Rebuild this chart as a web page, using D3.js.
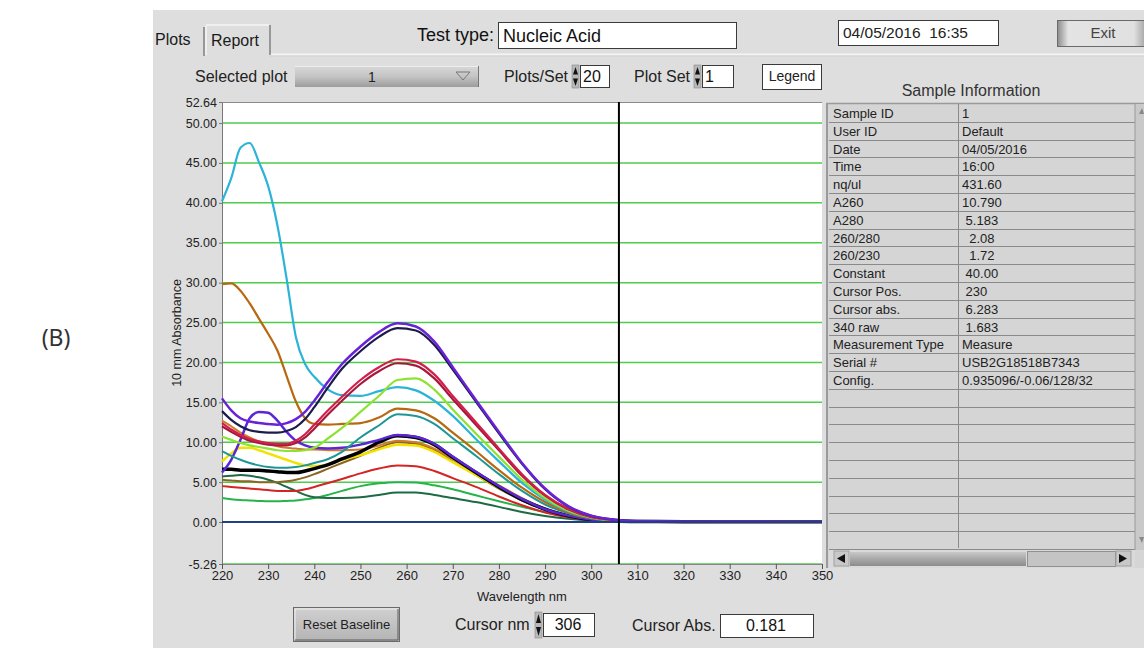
<!DOCTYPE html>
<html><head><meta charset="utf-8">
<script src="https://cdn.jsdelivr.net/npm/d3@7"></script>
<style>
html,body{margin:0;padding:0;background:#fff;}
svg{display:block;font-family:"Liberation Sans",Arial,sans-serif;}
text{white-space:pre;}
</style></head><body>
<svg id="c" width="1144" height="648"></svg>
<script>
// ---------- DATA ----------
const wavelengths = [220,222,224,226,228,230,232,234,236,238,240,243,246,250,254,258,262,266,270,275,280,285,290,295,300,305,310,320,330,340,350];
const cyanSeries      = [40.2,43.1,46.9,47.5,45.1,42.1,37.2,30.5,23.2,19.8,18.2,16.6,15.9,15.8,16.4,16.9,16.5,15.2,13.3,10.4,7.6,4.9,2.8,1.35,0.55,0.2,0.1,0.07,0.05,0.04,0.03];
const brownSeries     = [29.8,29.9,29.0,27.4,25.5,23.6,21.5,18.3,15.1,13.0,12.3,12.2,12.3,12.4,13.1,14.2,14.0,13.0,11.2,8.9,6.5,4.3,2.5,1.2,0.48,0.18,0.1,0.07,0.05,0.04,0.03];
const purpleSeries    = [15.5,14.0,13.0,12.6,12.4,12.3,12.2,12.4,12.9,13.8,15.2,17.6,19.8,22.0,23.8,24.9,24.5,22.6,19.4,15.3,11.3,7.4,4.2,2.0,0.8,0.3,0.12,0.08,0.06,0.05,0.04];
const navySeries      = [13.9,12.8,12.0,11.5,11.3,11.2,11.2,11.4,11.9,12.9,14.4,16.9,19.2,21.4,23.2,24.3,24.0,22.2,19.1,15.1,11.1,7.3,4.1,1.95,0.78,0.3,0.12,0.08,0.06,0.05,0.04];
const crimsonSeries   = [12.4,11.6,10.9,10.4,10.1,9.9,9.8,9.8,10.2,11.0,12.2,14.0,15.7,17.8,19.4,20.4,20.1,18.5,15.8,12.5,9.2,6.0,3.4,1.65,0.65,0.25,0.1,0.07,0.05,0.04,0.03];
const darkRedSeries   = [12.0,11.3,10.7,10.2,9.9,9.7,9.6,9.6,9.9,10.6,11.7,13.5,15.2,17.3,18.9,19.9,19.6,18.0,15.4,12.2,9.0,5.8,3.3,1.6,0.63,0.24,0.1,0.07,0.05,0.04,0.03];
const limeSeries      = [10.7,10.3,9.9,9.6,9.4,9.2,9.0,8.9,8.9,9.0,9.3,10.5,11.8,13.8,15.8,17.8,18.0,16.6,14.1,11.1,8.2,5.3,3.0,1.45,0.58,0.22,0.1,0.07,0.05,0.04,0.03];
const tealSeries      = [8.9,8.3,7.8,7.4,7.1,6.9,6.8,6.8,6.9,7.1,7.4,7.9,8.8,10.6,12.1,13.5,13.3,12.3,10.5,8.3,6.0,3.9,2.2,1.1,0.43,0.17,0.08,0.06,0.05,0.04,0.03];
const orangeSeries    = [12.7,12.0,11.2,10.6,10.1,9.8,9.5,9.3,9.2,9.1,9.1,9.0,9.0,9.1,9.6,10.2,10.0,9.2,7.9,6.2,4.6,3.0,1.7,0.85,0.33,0.13,0.07,0.05,0.04,0.03,0.03];
const yellowSeries    = [7.6,8.6,9.3,9.3,9.0,8.6,8.2,7.8,7.4,7.1,7.0,7.2,7.8,8.4,9.1,9.7,9.6,8.8,7.5,5.9,4.3,2.8,1.6,0.8,0.32,0.12,0.07,0.05,0.04,0.03,0.03];
const blackSeries     = [6.6,6.6,6.5,6.5,6.5,6.4,6.3,6.2,6.2,6.4,6.7,7.2,7.9,8.8,10.0,10.8,10.6,9.7,8.1,6.2,4.4,2.8,1.6,0.78,0.32,0.13,0.07,0.05,0.04,0.03,0.03];
const violetSeries    = [6.2,7.8,10.3,13.0,13.8,13.7,12.7,11.3,10.2,9.6,9.3,9.2,9.3,9.7,10.3,10.9,10.7,9.8,8.2,6.3,4.5,2.9,1.6,0.8,0.32,0.13,0.07,0.05,0.04,0.03,0.03];
const darkGreenSeries = [5.7,5.8,5.9,5.8,5.6,5.3,4.9,4.4,3.9,3.4,3.1,3.0,3.0,3.1,3.4,3.7,3.7,3.4,3.0,2.5,1.9,1.25,0.75,0.4,0.18,0.08,0.05,0.04,0.03,0.03,0.02];
const oliveSeries     = [5.3,5.2,5.1,5.1,5.0,5.0,5.0,5.1,5.3,5.6,6.0,6.7,7.4,8.3,9.3,10.0,9.8,9.0,7.6,5.9,4.2,2.7,1.55,0.75,0.3,0.12,0.06,0.05,0.04,0.03,0.03];
const redSeries       = [4.5,4.4,4.3,4.2,4.1,4.0,3.9,3.9,3.9,4.1,4.4,4.9,5.4,6.1,6.7,7.1,7.0,6.4,5.5,4.4,3.2,2.1,1.2,0.6,0.25,0.1,0.05,0.04,0.03,0.03,0.02];
const greenSeries     = [3.0,2.85,2.75,2.7,2.65,2.6,2.6,2.65,2.7,2.85,3.0,3.4,3.9,4.5,4.85,5.0,4.95,4.6,4.1,3.35,2.6,1.9,1.25,0.7,0.35,0.15,0.06,0.05,0.04,0.03,0.02];
const baselineSeries  = [0,0,0,0,0,0,0,0,0,0,0,0,0,0,0,0,0,0,0,0,0,0,0,0,0,0,0,0,0,0,0];

const yTickValues = [52.64,50,45,40,35,30,25,20,15,10,5,0,-5.26];
const gridValues  = [50,45,40,35,30,25,20,15,10,5,0,-5.26];
const xTickValues = [220,230,240,250,260,270,280,290,300,310,320,330,340,350];
const cursorNm = 306;

const tableLabels = ["Sample ID","User ID","Date","Time","nq/ul","A260","A280","260/280","260/230","Constant","Cursor Pos.","Cursor abs.","340 raw","Measurement Type","Serial #","Config."];
const tableValues = ["1","Default","04/05/2016","16:00","431.60","10.790"," 5.183","  2.08","  1.72"," 40.00"," 230"," 6.283"," 1.683","Measure","USB2G18518B7343","0.935096/-0.06/128/32"];

// draw order + colours
const seriesList = [
  [greenSeries,"#27b34c",2],[darkGreenSeries,"#1d6a45",2],[redSeries,"#d42424",2],
  [oliveSeries,"#8a6620",2],[orangeSeries,"#cf7a2c",2],[yellowSeries,"#f3e200",2.5],
  [blackSeries,"#000000",3.5],[violetSeries,"#5a26d6",2.5],[tealSeries,"#1f9696",2],
  [brownSeries,"#b8690f",2.2],[cyanSeries,"#2bb4d8",2.2],[limeSeries,"#8ee232",2.2],
  [darkRedSeries,"#a8183c",2.2],[crimsonSeries,"#d01f4c",2.2],[navySeries,"#1c1c4c",2.2],
  [purpleSeries,"#6a22d8",2.5],[baselineSeries,"#1f3f86",2]
];

// ---------- DRAW ----------
const svg = d3.select("#c");
const defs = svg.append("defs");
function vgrad(id, stops){ const g=defs.append("linearGradient").attr("id",id).attr("x1",0).attr("y1",0).attr("x2",0).attr("y2",1); stops.forEach(([o,c])=>g.append("stop").attr("offset",o).attr("stop-color",c)); }
function hgrad(id, stops){ const g=defs.append("linearGradient").attr("id",id).attr("x1",0).attr("y1",0).attr("x2",1).attr("y2",0); stops.forEach(([o,c])=>g.append("stop").attr("offset",o).attr("stop-color",c)); }
vgrad("dd",[[0,"#d8d8d8"],[0.5,"#c4c4c4"],[1,"#9c9c9c"]]);
hgrad("exitg",[[0,"#8c8c8c"],[0.12,"#e4e4e4"],[0.85,"#e0e0e0"],[1,"#9a9a9a"]]);
vgrad("thumb",[[0,"#c8c8c8"],[0.5,"#a8a8a8"],[1,"#8c8c8c"]]);
vgrad("btn",[[0,"#d0d0d0"],[1,"#b4b4b4"]]);

svg.append("rect").attr("x",0).attr("y",0).attr("width",1144).attr("height",648).attr("fill","#fff");
svg.append("text").attr("x",56).attr("y",346).attr("text-anchor","middle").attr("font-family","'Noto Sans',sans-serif").attr("font-size",23).attr("fill","#333").text("(B)");

// panel
svg.append("rect").attr("x",153).attr("y",10).attr("width",991).attr("height",638).attr("fill","#dedede");

function txt(x,y,s,size,anchor,color){ return svg.append("text").attr("x",x).attr("y",y).attr("font-size",size).attr("text-anchor",anchor||"start").attr("fill",color||"#1a1a1a").text(s); }
function box(x,y,w,h,fill){ svg.append("rect").attr("x",x+0.5).attr("y",y+0.5).attr("width",w).attr("height",h).attr("fill",fill||"#fff").attr("stroke","#3a3a3a").attr("stroke-width",1); }
function spinner(x,y,h){
  svg.append("rect").attr("x",x).attr("y",y).attr("width",7).attr("height",h).attr("fill","#b8b8b8").attr("stroke","#888").attr("stroke-width",0.6);
  svg.append("path").attr("d",`M${x+1},${y+h/2-2} L${x+3.5},${y+2} L${x+6},${y+h/2-2}Z`).attr("fill","#111");
  svg.append("path").attr("d",`M${x+1},${y+h/2+2} L${x+3.5},${y+h-2} L${x+6},${y+h/2+2}Z`).attr("fill","#111");
}

// tabs
svg.append("line").attr("x1",270).attr("x2",1144).attr("y1",54.5).attr("y2",54.5).attr("stroke","#f4f4f4").attr("stroke-width",2);
svg.append("line").attr("x1",270).attr("x2",1144).attr("y1",56).attr("y2",56).attr("stroke","#cfcfcf").attr("stroke-width",1);
svg.append("line").attr("x1",204).attr("x2",204).attr("y1",27).attr("y2",56).attr("stroke","#808080").attr("stroke-width",1.5);
svg.append("line").attr("x1",206).attr("x2",206).attr("y1",26).attr("y2",55).attr("stroke","#f4f4f4").attr("stroke-width",1.5);
svg.append("line").attr("x1",206).attr("x2",269).attr("y1",25).attr("y2",25).attr("stroke","#f4f4f4").attr("stroke-width",1.5);
svg.append("line").attr("x1",270).attr("x2",270).attr("y1",25).attr("y2",55).attr("stroke","#808080").attr("stroke-width",1.5);
txt(155,45,"Plots",16);
txt(211,46,"Report",16);

// test type
txt(494,41,"Test type:",18,"end","#111");
box(498,22,238,26);
txt(503,42,"Nucleic Acid",18,"start","#111");
// date
box(838,20,160,25);
txt(843,38,"04/05/2016  16:35",15.5,"start","#222");
// exit
svg.append("rect").attr("x",1057.5).attr("y",20.5).attr("width",90).attr("height",26).attr("fill","url(#exitg)").attr("stroke","#6a6a6a");
txt(1103,38,"Exit",15,"middle","#444");

// row 2
txt(195,82,"Selected plot",16,"start","#222");
svg.append("rect").attr("x",295).attr("y",66).attr("width",184).attr("height",21).attr("fill","url(#dd)");
svg.append("line").attr("x1",295).attr("x2",479).attr("y1",66.5).attr("y2",66.5).attr("stroke","#eee");
svg.append("line").attr("x1",478.5).attr("x2",478.5).attr("y1",66).attr("y2",87).attr("stroke","#777");
txt(372,82,"1",14,"middle","#222");
svg.append("path").attr("d","M456,72 L470,72 L463,80 Z").attr("fill","none").attr("stroke","#777").attr("stroke-width",1);
txt(504,82,"Plots/Set",16,"start","#222");
spinner(572,65,23);
box(580,65,29,22);
txt(583,82,"20",16,"start","#111");
txt(634,82,"Plot Set",16,"start","#222");
spinner(694,65,23);
box(702,65,31,22);
txt(705,82,"1",16,"start","#111");
box(762,64,59,25);
txt(792,81,"Legend",14,"middle","#222");

// sample info
txt(971,96,"Sample Information",16,"middle","#333");
const tX=828, tY=104, rowH=17.8, nRows=25, col2=958, tRight=1135;
svg.append("rect").attr("x",826).attr("y",103).attr("width",318).attr("height",465).attr("fill","#d5d5d5");
svg.append("line").attr("x1",827).attr("x2",827).attr("y1",103).attr("y2",568).attr("stroke","#9a9a9a").attr("stroke-width",2);
svg.append("line").attr("x1",826).attr("x2",1144).attr("y1",103.5).attr("y2",103.5).attr("stroke","#9a9a9a").attr("stroke-width",1.5);
for(let i=1;i<=nRows;i++){
  const yy=Math.round(tY+rowH*i)+0.5;
  svg.append("line").attr("x1",tX+1).attr("x2",tRight).attr("y1",yy).attr("y2",yy).attr("stroke","#8a8a8a").attr("stroke-width",1);
}
svg.append("line").attr("x1",col2+0.5).attr("x2",col2+0.5).attr("y1",tY).attr("y2",548).attr("stroke","#8a8a8a");
tableLabels.forEach((l,i)=>{
  txt(833,tY+rowH*i+14,l,13,"start","#222");
  txt(962,tY+rowH*i+14,tableValues[i],13,"start","#222");
});
// vertical scrollbar
svg.append("rect").attr("x",1135).attr("y",104).attr("width",9).attr("height",446).attr("fill","#c9c9c9");
svg.append("line").attr("x1",1135).attr("x2",1135).attr("y1",104).attr("y2",550).attr("stroke","#9a9a9a");
svg.append("path").attr("d","M1139,114 L1142,108 L1144,114Z").attr("fill","#888");
svg.append("path").attr("d","M1139,537 L1142,543 L1144,537Z").attr("fill","#888");
// horizontal scrollbar
svg.append("rect").attr("x",829).attr("y",550).attr("width",306).attr("height",18).attr("fill","#dadada");
svg.append("rect").attr("x",834).attr("y",551).attr("width",15).attr("height",15).attr("fill","#c8c8c8").attr("stroke","#a0a0a0");
svg.append("path").attr("d","M837,558.5 L845,554 L845,563Z").attr("fill","#111");
svg.append("rect").attr("x",850).attr("y",552).attr("width",176).attr("height",14).attr("fill","url(#thumb)");
svg.append("rect").attr("x",1027.5).attr("y",551.5).attr("width",88).attr("height",15).attr("fill","#c4c4c4").attr("stroke","#909090");
svg.append("rect").attr("x",1116).attr("y",551).attr("width",15).attr("height",15).attr("fill","#c8c8c8").attr("stroke","#a0a0a0");
svg.append("path").attr("d","M1127,558.5 L1119,554 L1119,563Z").attr("fill","#111");

// ---------- CHART ----------
const x = d3.scaleLinear().domain([220,350]).range([222,822]);
const y = d3.scaleLinear().domain([-5.26,52.64]).range([564,102]);
svg.append("rect").attr("x",222).attr("y",102).attr("width",600).attr("height",462).attr("fill","#fff");
svg.append("g").selectAll("line").data(gridValues).join("line")
  .attr("x1",222).attr("x2",822).attr("y1",d=>y(d)).attr("y2",d=>y(d))
  .attr("stroke","#4ccd4c").attr("stroke-width",1.5);
svg.append("line").attr("x1",222).attr("x2",822).attr("y1",102.5).attr("y2",102.5).attr("stroke","#8a8a8a");

const yAxis = svg.append("g").attr("transform","translate(222,0)")
  .call(d3.axisLeft(y).tickValues(yTickValues).tickFormat(d=>d.toFixed(2)).tickSize(3).tickPadding(2).tickSizeOuter(0));
yAxis.select(".domain").attr("stroke","#777");
yAxis.selectAll("line").attr("stroke","#777");
yAxis.selectAll("text").attr("font-size",12.5).attr("fill","#222").attr("font-family","'Liberation Sans',Arial,sans-serif");

const xAxis = svg.append("g").attr("transform","translate(0,564)")
  .call(d3.axisBottom(x).tickValues(xTickValues).tickFormat(d3.format("d")).tickSize(5).tickPadding(2).tickSizeOuter(0));
xAxis.select(".domain").attr("stroke","#888");
xAxis.selectAll("line").attr("stroke","#555");
xAxis.selectAll("text").attr("font-size",13).attr("fill","#222").attr("font-family","'Liberation Sans',Arial,sans-serif");

svg.append("text").attr("transform","translate(181,333) rotate(-90)").attr("text-anchor","middle").attr("font-size",12.5).attr("fill","#222").text("10 mm Absorbance");
txt(522,601,"Wavelength nm",13,"middle","#222");

const line = d3.line().x((d,i)=>x(wavelengths[i])).y(d=>y(d)).curve(d3.curveMonotoneX);
const plot = svg.append("g");
seriesList.forEach(([vals,color,w])=>{
  plot.append("path").attr("d",line(vals)).attr("fill","none").attr("stroke",color).attr("stroke-width",w).attr("stroke-linejoin","round");
});

// cursor
svg.append("line").attr("x1",x(cursorNm)).attr("x2",x(cursorNm)).attr("y1",102).attr("y2",564).attr("stroke","#000").attr("stroke-width",2);

// ---------- bottom controls ----------
svg.append("rect").attr("x",293.5).attr("y",607.5).attr("width",106).attr("height",34).attr("fill","url(#btn)").attr("stroke","#6a6a6a");
svg.append("path").attr("d","M295,640 L295,609 L398,609").attr("fill","none").attr("stroke","#f0f0f0");
svg.append("path").attr("d","M295,640 L398,640 L398,609").attr("fill","none").attr("stroke","#5a5a5a");
txt(346.5,629,"Reset Baseline",13,"middle","#222");
txt(455,630,"Cursor nm",16,"start","#222");
spinner(535,612,26);
box(543,613,51,23);
txt(568,630,"306",16,"middle","#111");
txt(632,631,"Cursor Abs.",16,"start","#222");
box(720,614,93,23);
txt(766,631,"0.181",16,"middle","#111");
</script>
</body></html>
